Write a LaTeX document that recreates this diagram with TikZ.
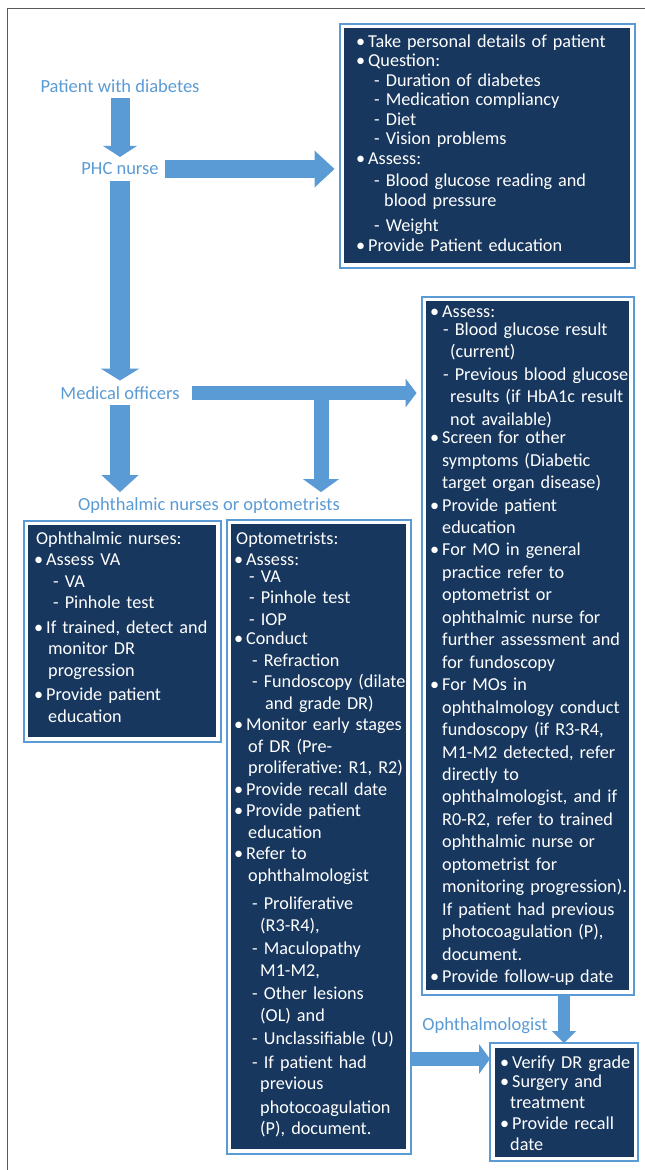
\documentclass[tikz,border=0pt]{standalone}
\usepackage{xcolor}
\usepackage{fontspec}
\setmainfont{Carlito}
\usepackage{tikz}
\usetikzlibrary{arrows.meta}

\definecolor{navy}{HTML}{17375E}
\definecolor{skyblue}{HTML}{5B9BD5}
\newcommand{\itm}{\makebox[10pt][l]{\hspace*{-2pt}\textbullet}}

\begin{document}
\begin{tikzpicture}[
  x=1pt, y=-1pt,
  every node/.style={font=\fontsize{18.5}{22}\selectfont\frenchspacing},
  role/.style={text=skyblue, inner sep=0pt, outer sep=6pt},
  panel/.style={fill=navy, inner sep=0pt, outer sep=4.5pt, anchor=north west},
  frame/.style={draw=skyblue, line width=2pt},
  body/.style={text=white, align=left, text width=300pt, inner sep=0pt,
    anchor=base west, font=\fontsize{18.2}{#1}\selectfont\frenchspacing},
  flow/.style n args={3}{draw=skyblue, line width=#1,
    -{Triangle[width=#2, length=#3, line width=0pt]}}
]
\path[use as bounding box, fill=white] (0,0) rectangle (645,1170);
\draw[black!65, line width=0.8pt] (7,1170) |- (645,8); % cornice esterna

% ruoli
\node[role] (pat) at (120,86) {Patient with diabetes};
\node[role] (phc) at (120,169) {PHC nurse};
\node[role] (mo) at (120,393) {Medical officers};
\node[role] (onop) at (209,506) {Ophthalmic nurses or optometrists};
\node[role] (ophth) at (485,1026) {Ophthalmologist};

% riquadri
\node[panel, minimum width=286pt, minimum height=235pt] (tasks) at (339.5,23.5) {};
\node[panel, minimum width=188pt, minimum height=212pt] (nurses) at (23.5,520.5) {};
\node[panel, minimum width=175pt, minimum height=625pt] (optom) at (226.5,519.5) {};
\node[panel, minimum width=203pt, minimum height=689pt] (mobox) at (421.5,296.5) {};
\node[panel, minimum width=139pt, minimum height=109pt] (ophbox) at (490,1043) {};
\foreach \b in {tasks,nurses,optom,mobox,ophbox}
  \draw[frame] (\b.north west) rectangle (\b.south east);

\node[body=19.5pt] (taskstext) at (358,47) {%
\itm Take personal details of patient\\
\itm Question:\\
\hspace*{16pt}- Duration of diabetes\\
\hspace*{16pt}- Medication compliancy\\
\hspace*{16pt}- Diet\\
\hspace*{16pt}- Vision problems\\
\itm Assess:\\[3pt]
\hspace*{16pt}- Blood glucose reading and\\
\hspace*{26pt}blood pressure\\[6pt]
\hspace*{16pt}- Weight\\
\itm Provide Patient education};

\node[body=21.5pt] (nursestext) at (36,544) {%
Ophthalmic nurses:\\
\itm Assess VA\\
\hspace*{17pt}- VA\\
\hspace*{17pt}- Pinhole test\\[3pt]
\itm If trained, detect and\\
\hspace*{12pt}monitor DR\\
\hspace*{12pt}progression\\[3pt]
\itm Provide patient\\
\hspace*{12pt}education};

\node[body=21.5pt] (optomtext) at (236,544) {%
Optometrists:\\
\itm Assess:\\[-5pt]
\hspace*{13pt}- VA\\
\hspace*{13pt}- Pinhole test\\
\hspace*{13pt}- IOP\\[-2pt]
\itm Conduct\\
\hspace*{16pt}- Refraction\\
\hspace*{16pt}- Fundoscopy (dilate\\
\hspace*{29pt}and grade DR)\\
\itm Monitor early stages\\
\hspace*{12pt}of DR (Pre-\\
\hspace*{12pt}proliferative: R1, R2)\\
\itm Provide recall date\\
\itm Provide patient\\
\hspace*{12pt}education\\
\itm Refer to\\
\hspace*{12pt}ophthalmologist\\[7pt]
\hspace*{16pt}- Proliferative\\
\hspace*{24pt}(R3-R4),\\[2pt]
\hspace*{16pt}- Maculopathy\\
\hspace*{24pt}M1-M2,\\[2pt]
\hspace*{16pt}- Other lesions\\
\hspace*{24pt}(OL) and\\[2pt]
\hspace*{16pt}- Unclassifiable (U)\\[2pt]
\hspace*{16pt}- If patient had\\
\hspace*{24pt}previous\\[2pt]
\hspace*{24pt}photocoagulation\\
\hspace*{24pt}(P), document.};

\node[body=22.45pt] (motext) at (432,317) {%
\itm Assess:\\[-4pt]
\hspace*{11pt}- Blood glucose result\\
\hspace*{18pt}(current)\\
\hspace*{11pt}- Previous blood glucose\\
\hspace*{18pt}results (if HbA1c result\\
\hspace*{18pt}not available)\\[-4pt]
\itm Screen for other\\
\hspace*{10pt}symptoms (Diabetic\\
\hspace*{10pt}target organ disease)\\
\itm Provide patient\\
\hspace*{10pt}education\\
\itm For MO in general\\
\hspace*{10pt}practice refer to\\
\hspace*{10pt}optometrist or\\
\hspace*{10pt}ophthalmic nurse for\\
\hspace*{10pt}further assessment and\\
\hspace*{10pt}for fundoscopy\\
\itm For MOs in\\
\hspace*{10pt}ophthalmology conduct\\
\hspace*{10pt}fundoscopy (if R3-R4,\\
\hspace*{10pt}M1-M2 detected, refer\\
\hspace*{10pt}directly to\\
\hspace*{10pt}ophthalmologist, and if\\
\hspace*{10pt}R0-R2, refer to trained\\
\hspace*{10pt}ophthalmic nurse or\\
\hspace*{10pt}optometrist for\\
\hspace*{10pt}monitoring progression).\\
\hspace*{10pt}If patient had previous\\
\hspace*{10pt}photocoagulation (P),\\
\hspace*{10pt}document.\\
\itm Provide follow-up date};

\node[body=21pt] (ophtext) at (502,1068) {%
\itm Verify DR grade\\[-2pt]
\itm Surgery and\\
\hspace*{8pt}treatment\\
\itm Provide recall\\
\hspace*{8pt}date};

% frecce
\coordinate (taskin) at (phc.east -| tasks.west);
\coordinate (moin) at (mo.east -| mobox.west);
\coordinate (split) at (321,393);
\coordinate (ophin) at ([yshift=43pt]ophbox.west);
\draw[flow={19pt}{34pt}{11pt}] (pat.south) -- (phc.north);
\draw[flow={18pt}{37pt}{20pt}] (phc.east) -- ([xshift=-5pt]taskin);
\draw[flow={20pt}{39pt}{12pt}] (phc.south) -- (mo.north);
\draw[flow={14pt}{29pt}{11pt}] ([xshift=6pt]mo.east) -- ([xshift=-5pt]moin);
\draw[flow={20pt}{37pt}{17pt}] (mo.south) -- (mo.south |- onop.north);
\draw[flow={15pt}{36pt}{13pt}] (split) -- (split |- onop.north);
\draw[flow={12pt}{24pt}{12pt}] (mobox.south -| ophbox.north) -- (ophbox.north);
\draw[flow={14pt}{30pt}{11pt}] (optom.east |- ophin) -- (ophin);
\end{tikzpicture}
\end{document}
